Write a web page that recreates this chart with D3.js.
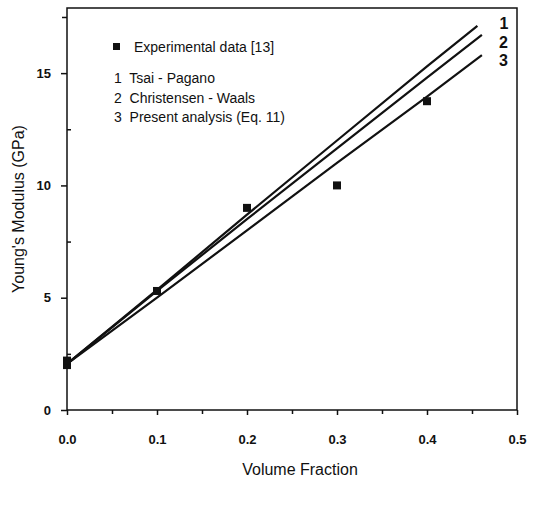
<!DOCTYPE html>
<html>
<head>
<meta charset="utf-8">
<script src="https://cdn.jsdelivr.net/npm/d3@7"></script>
<style>
  body { margin: 0; background: #fff; }
  svg text { font-family: "Liberation Sans", Arial, sans-serif; fill: #111; }
</style>
</head>
<body>
<svg id="chart" width="533" height="507"></svg>
<script>
// data
const expX = [0.0, 0.0, 0.1, 0.2, 0.3, 0.4];
const expY = [2.0, 2.2, 5.3, 9.0, 10.0, 13.75];

const tsaiX = [0.0, 0.1, 0.2, 0.3, 0.4, 0.456];
const tsaiY = [2.05, 5.35, 8.7, 12.0, 15.3, 17.1];

const chrisX = [0.0, 0.1, 0.2, 0.3, 0.4, 0.461];
const chrisY = [2.05, 5.3, 8.5, 11.65, 14.8, 16.7];

const presX = [0.0, 0.1, 0.2, 0.3, 0.4, 0.461];
const presY = [2.05, 5.0, 8.0, 11.0, 13.95, 15.8];

const curveLabels = ['1', '2', '3'];
const legendLines = ['1  Tsai - Pagano', '2  Christensen - Waals', '3  Present analysis (Eq. 11)'];

const xTicks = [0, 0.1, 0.2, 0.3, 0.4, 0.5];
const yTicks = [0, 5, 10, 15];

let svg = d3.select('#chart');
let margin = {top: 8, left: 67, right: 16, bottom: 97};
let width = 533 - margin.left - margin.right;
let height = 507 - margin.top - margin.bottom;

let x = d3.scaleLinear().domain([0, 0.5]).range([0, width]);
let y = d3.scaleLinear().domain([0, 17.9]).range([height, 0]);

let g = svg.append('g').attr('transform', `translate(${margin.left},${margin.top})`);

// frame
g.append('rect')
    .attr('width', width).attr('height', height)
    .attr('fill', 'none').attr('stroke', '#111').attr('stroke-width', 1.5);

// x axis
let xAxis = g.append('g').attr('transform', `translate(0,${height})`)
    .call(d3.axisBottom(x).tickValues(xTicks).tickFormat(d3.format('.1f')).tickSize(5).tickPadding(20));
xAxis.select('.domain').remove();
g.append('g').attr('transform', `translate(0,${height})`)
    .call(d3.axisBottom(x).tickValues(d3.range(0.05, 0.5, 0.1)).tickFormat('').tickSize(4))
    .select('.domain').remove();

// y axis
let yAxis = g.append('g')
    .call(d3.axisLeft(y).tickValues(yTicks).tickSize(6).tickPadding(10));
yAxis.select('.domain').remove();
g.append('g')
    .call(d3.axisRight(y).tickValues([2.5, 7.5, 12.5]).tickFormat('').tickSize(4))
    .select('.domain').remove();
g.append('g')
    .call(d3.axisLeft(y).tickValues([17.5]).tickFormat('').tickSize(5))
    .select('.domain').remove();

g.selectAll('.tick line').attr('stroke', '#111').attr('stroke-width', 1.5);
g.selectAll('.tick text').style('font-size', '13px').style('font-weight', 'bold');

// curves
let line = d3.line().x(d => x(d[0])).y(d => y(d[1]));
let curves = [[tsaiX, tsaiY], [chrisX, chrisY], [presX, presY]];
curves.forEach(([xs, ys], i) => {
    let pts = xs.map((v, j) => [v, ys[j]]);
    g.append('path')
        .attr('d', line(pts))
        .attr('fill', 'none').attr('stroke', '#111').attr('stroke-width', 2.2);
    let last = pts[pts.length - 1];
    g.append('text')
        .attr('x', x(last[0]) + 17 + (i === 0 ? 5 : 0))
        .attr('y', 21 + i * 18.5)
        .style('font-size', '16px').style('font-weight', 'bold')
        .text(curveLabels[i]);
});

// experimental markers
g.selectAll('.exp')
    .data(expX.map((v, i) => [v, expY[i]]))
    .enter().append('rect')
    .attr('x', d => x(d[0]) - 4).attr('y', d => y(d[1]) - 4)
    .attr('width', 8).attr('height', 8)
    .attr('fill', '#111');

// legend
g.append('rect').attr('x', 46).attr('y', 35).attr('width', 7).attr('height', 7).attr('fill', '#111');
g.append('text').attr('x', 67).attr('y', 44).style('font-size', '14px').text('Experimental data [13]');
g.selectAll('.leg')
    .data(legendLines)
    .enter().append('text')
    .attr('x', 47).attr('y', (d, i) => 75 + i * 19.5)
    .style('font-size', '14px')
    .attr('xml:space', 'preserve')
    .text(d => d);

// axis titles
svg.append('text')
    .attr('x', margin.left + width / 2 + 8).attr('y', 475)
    .attr('text-anchor', 'middle').style('font-size', '16px')
    .text('Volume Fraction');
svg.append('text')
    .attr('transform', `translate(24,${margin.top + height / 2}) rotate(-90)`)
    .attr('text-anchor', 'middle').style('font-size', '16px')
    .text("Young's Modulus (GPa)");
</script>
</body>
</html>
